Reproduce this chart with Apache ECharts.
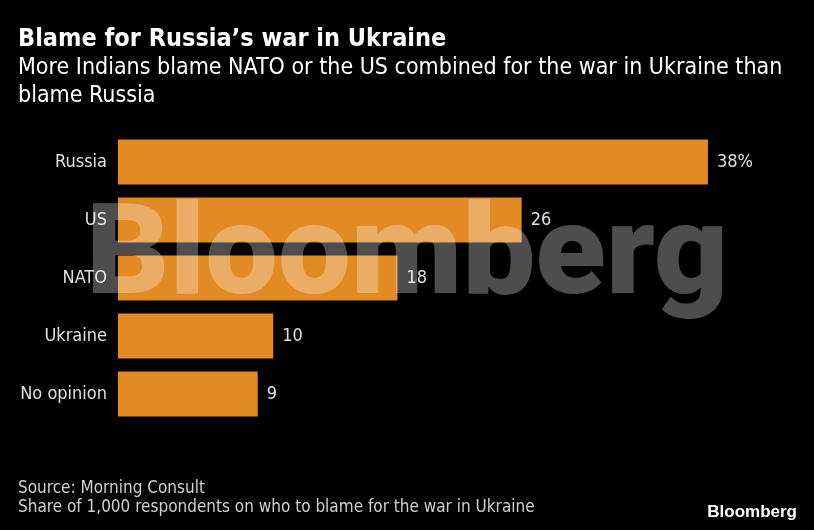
<!DOCTYPE html>
<html>
<head>
<meta charset="utf-8">
<script src="https://cdn.jsdelivr.net/npm/echarts@6/dist/echarts.min.js"></script>
<style>
  html, body { margin: 0; padding: 0; background: #000; }
  #chart { width: 814px; height: 530px; }
</style>
</head>
<body>
<div id="chart"></div>
<script>
// data
var categories = ['Russia', 'US', 'NATO', 'Ukraine', 'No opinion'];
var values = [38, 26, 18, 10, 9];
var valueLabels = ['38%', '26', '18', '10', '9'];

var titleText = 'Blame for Russia\u2019s war in Ukraine';
var subtitleLines = [
    'More Indians blame NATO or the US combined for the war in Ukraine than',
    'blame Russia'
];
var footerLines = [
    'Source: Morning Consult',
    'Share of 1,000 respondents on who to blame for the war in Ukraine'
];

var FONT = '"DejaVu Sans Condensed", "DejaVu Sans", sans-serif';

var chart = echarts.init(document.getElementById('chart'), null, { renderer: 'canvas' });

var graphics = [
    {
        type: 'text', left: 18, top: 27, silent: true,
        style: { text: titleText, fill: '#ffffff', font: 'bold 25px ' + FONT }
    },
    {
        type: 'text', left: 18, top: 54, silent: true,
        style: { text: subtitleLines.join('\n'), fill: '#ffffff', font: '23px ' + FONT, lineHeight: 28 }
    },
    {
        type: 'text', left: 18, top: 479, silent: true,
        style: { text: footerLines.join('\n'), fill: '#d0d0d0', font: '17px ' + FONT, lineHeight: 19 }
    },
    {
        type: 'text', right: 17, top: 504, silent: true,
        style: { text: 'Bloomberg', fill: '#ffffff', font: 'bold 17px "Liberation Sans", Arial, sans-serif' }
    },
    {
        // watermark over the bars
        type: 'text', left: 86, top: 198, silent: true, z: 100,
        scaleX: 1.02,
        style: {
            text: 'Bloomberg',
            fill: 'rgba(255,255,255,0.3)',
            font: '900 127px Roboto, "Liberation Sans", Arial, sans-serif'
        }
    }
];

var option = {
    backgroundColor: '#000000',
    animation: false,
    grid: { left: 118, right: 75, top: 133, bottom: 107, containLabel: false },
    xAxis: {
        type: 'value', min: 0, max: 40, show: false,
        splitLine: { show: false }
    },
    yAxis: {
        type: 'category',
        data: categories,
        inverse: true,
        axisLine: { show: false },
        axisTick: { show: false },
        axisLabel: { color: '#e0e0e0', fontSize: 18, fontFamily: FONT, margin: 11 }
    },
    series: [{
        type: 'bar',
        data: values,
        barCategoryGap: '22%',
        itemStyle: { color: '#E28A24' },
        label: {
            show: true,
            position: 'right',
            distance: 9,
            color: '#e0e0e0',
            fontSize: 18,
            fontFamily: FONT,
            formatter: function (p) { return valueLabels[p.dataIndex]; }
        }
    }],
    graphic: graphics
};

chart.setOption(option);
</script>
</body>
</html>
